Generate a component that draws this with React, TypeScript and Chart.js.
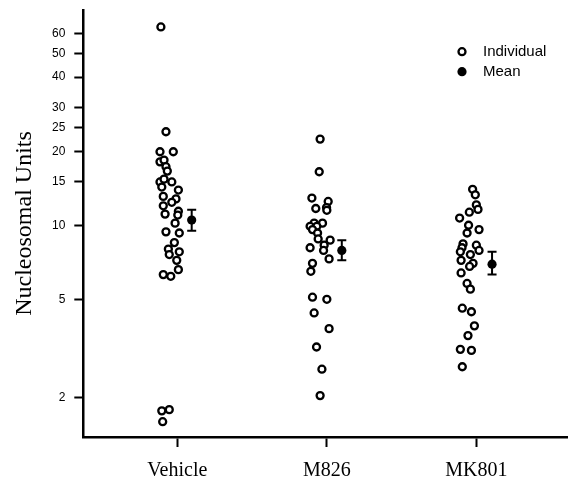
import React, { useEffect, useRef } from "react";
import { Chart, registerables } from "chart.js";

Chart.register(...registerables);

const categories = ["Vehicle", "M826", "MK801"];
const yTickValues = [2, 5, 10, 15, 20, 25, 30, 40, 50, 60];

const vehicleValues = [64, 24.0, 19.9, 19.9, 18.1, 18.4, 17.3, 16.6, 15.0, 15.4, 15.0, 14.3, 13.9, 13.1, 12.8, 12.4, 12.0, 11.4, 11.1, 11.0, 10.2, 9.4, 9.3, 8.5, 8.0, 7.8, 7.6, 7.2, 6.6, 6.3, 6.2, 1.76, 1.78, 1.59];
const vehicleJitter = [-0.11, -0.076, -0.116, -0.027, -0.116, -0.089, -0.076, -0.067, -0.116, -0.089, -0.037, -0.104, 0.007, -0.094, -0.009, -0.037, -0.094, 0.007, -0.082, 0.003, -0.015, -0.076, 0.013, -0.02, -0.06, 0.013, -0.054, -0.004, 0.007, -0.094, -0.044, -0.104, -0.054, -0.098];

const m826Values = [22.4, 16.5, 12.9, 12.5, 11.7, 11.8, 11.5, 10.2, 10.2, 9.9, 9.9, 9.6, 9.3, 8.8, 8.7, 8.3, 8.1, 7.9, 7.3, 7.0, 6.5, 5.1, 5.0, 4.4, 3.8, 3.2, 2.6, 2.03];
const m826Jitter = [-0.045, -0.051, -0.1, 0.009, -0.074, -0.002, 0, -0.029, -0.085, -0.112, -0.067, -0.096, -0.062, -0.058, 0.022, -0.018, -0.112, -0.022, 0.015, -0.096, -0.107, -0.096, 0, -0.085, 0.015, -0.069, -0.033, -0.045];

const mk801Values = [14.0, 13.3, 12.1, 11.6, 11.3, 10.7, 10.0, 9.6, 9.3, 8.4, 8.3, 8.1, 7.9, 7.8, 7.6, 7.2, 7.0, 6.8, 6.4, 5.8, 5.5, 4.6, 4.45, 3.9, 3.56, 3.13, 3.1, 2.66];
const mk801Jitter = [-0.025, -0.007, 0, 0.011, -0.047, -0.112, -0.052, 0.018, -0.062, -0.089, 0, -0.096, 0.018, -0.107, -0.04, -0.102, -0.022, -0.045, -0.102, -0.062, -0.04, -0.094, -0.033, -0.013, -0.056, -0.107, -0.033, -0.094];

const meanValues = [10.5, 7.9, 6.95];
const meanLower = [9.5, 7.2, 6.3];
const meanUpper = [11.55, 8.7, 7.8];
const meanOffset = [0.096, 0.1, 0.105];

const legendLabels = ["Individual", "Mean"];

const groupValues = [vehicleValues, m826Values, mk801Values];
const groupJitter = [vehicleJitter, m826Jitter, mk801Jitter];

const errorBarPlugin = {
  id: "errorBars",
  afterDatasetsDraw(chart: any) {
    const { ctx, scales } = chart;
    const xs = scales.x;
    const ys = scales.y;
    ctx.save();
    ctx.strokeStyle = "#000";
    ctx.lineWidth = 2;
    meanValues.forEach((_, i) => {
      const x = xs.getPixelForValue(i + 1 + meanOffset[i]);
      const yl = ys.getPixelForValue(meanLower[i]);
      const yu = ys.getPixelForValue(meanUpper[i]);
      ctx.beginPath();
      ctx.moveTo(x, yl);
      ctx.lineTo(x, yu);
      ctx.moveTo(x - 4.5, yl);
      ctx.lineTo(x + 4.5, yl);
      ctx.moveTo(x - 4.5, yu);
      ctx.lineTo(x + 4.5, yu);
      ctx.stroke();
    });
    ctx.restore();
  },
};

const legendPlugin = {
  id: "customLegend",
  afterDraw(chart: any) {
    const { ctx } = chart;
    ctx.save();
    const lx = 462;
    const ys = [51.7, 71.7];
    ctx.lineWidth = 2.3;
    ctx.strokeStyle = "#000";
    ctx.fillStyle = "#fff";
    ctx.beginPath();
    ctx.arc(lx, ys[0], 3.5, 0, Math.PI * 2);
    ctx.fill();
    ctx.stroke();
    ctx.fillStyle = "#000";
    ctx.beginPath();
    ctx.arc(lx, ys[1], 4.6, 0, Math.PI * 2);
    ctx.fill();
    ctx.font = "15px 'Liberation Sans', Arial, sans-serif";
    ctx.textBaseline = "middle";
    ctx.textAlign = "left";
    legendLabels.forEach((t, i) => ctx.fillText(t, 483, ys[i]));
    ctx.restore();
  },
};

export default function App() {
  const ref = useRef<HTMLCanvasElement | null>(null);

  useEffect(() => {
    if (!ref.current) return;
    const individual: { x: number; y: number }[] = [];
    groupValues.forEach((vals, g) => {
      vals.forEach((v, k) => individual.push({ x: g + 1 + groupJitter[g][k], y: v }));
    });
    const means = meanValues.map((v, i) => ({ x: i + 1 + meanOffset[i], y: v }));

    const chart = new Chart(ref.current, {
      type: "scatter",
      data: {
        datasets: [
          {
            label: "Individual",
            data: individual,
            pointStyle: "circle",
            pointRadius: 3.5,
            borderWidth: 2.3,
            borderColor: "#000",
            backgroundColor: "#fff",
            clip: false,
          } as any,
          {
            label: "Mean",
            data: means,
            pointStyle: "circle",
            pointRadius: 4.6,
            borderWidth: 0,
            backgroundColor: "#000",
            borderColor: "#000",
            clip: false,
          } as any,
        ],
      },
      options: {
        animation: false,
        responsive: false,
        layout: { autoPadding: false, padding: { top: 10, left: 0, right: 0, bottom: 0 } },
        plugins: {
          legend: { display: false },
          tooltip: { enabled: false },
        },
        scales: {
          x: {
            type: "linear",
            min: 0.371,
            max: 3.613,
            afterBuildTicks: (scale: any) => {
              scale.ticks = categories.map((_, i) => ({ value: i + 1 }));
            },
            afterFit: (scale: any) => {
              scale.height = 45;
              scale.paddingLeft = 0;
              scale.paddingRight = 0;
            },
            ticks: {
              autoSkip: false,
              maxRotation: 0,
              padding: 12,
              color: "#000",
              font: { family: "'Liberation Serif', 'Times New Roman', serif", size: 20 },
              callback: (v: any) => categories[Math.round(Number(v)) - 1] ?? "",
            },
            grid: {
              display: true,
              drawOnChartArea: false,
              tickLength: 10,
              tickWidth: 2,
              tickColor: "#000",
            },
            border: { display: true, color: "#000", width: 2.5 },
          },
          y: {
            type: "logarithmic",
            min: 1.378,
            max: 75,
            afterBuildTicks: (scale: any) => {
              scale.ticks = yTickValues.map((v) => ({ value: v }));
            },
            afterFit: (scale: any) => {
              scale.width = 83.3;
              scale.paddingTop = 0;
              scale.paddingBottom = 0;
            },
            ticks: {
              autoSkip: false,
              padding: 9,
              color: "#000",
              font: { family: "'Liberation Sans', Arial, sans-serif", size: 12 },
              callback: (v: any) => String(v),
            },
            grid: {
              display: true,
              drawOnChartArea: false,
              tickLength: 9,
              tickWidth: 2,
              tickColor: "#000",
            },
            border: { display: true, color: "#000", width: 2.5 },
            title: {
              display: true,
              text: "Nucleosomal Units",
              color: "#000",
              font: { family: "'Liberation Serif', 'Times New Roman', serif", size: 24, weight: "normal" },
              padding: { top: 10, bottom: 0 },
            },
          },
        },
      },
      plugins: [errorBarPlugin, legendPlugin],
    });
    return () => chart.destroy();
  }, []);

  return (
    <div style={{ position: "fixed", left: 0, top: 0, width: 568, height: 482, background: "#fff" }}>
      <canvas ref={ref} width={568} height={482} style={{ display: "block" }} />
    </div>
  );
}
